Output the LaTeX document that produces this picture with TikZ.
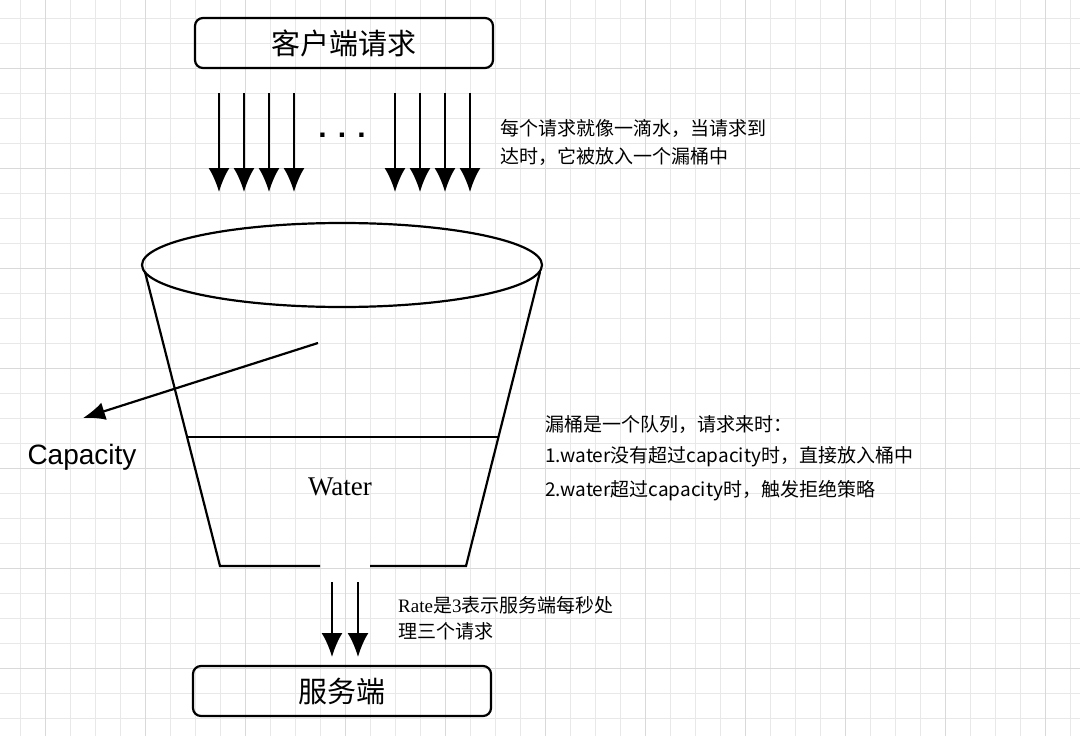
\documentclass[tikz,border=0pt]{standalone}
\usepackage{fontspec}
\usetikzlibrary{arrows.meta,shapes.geometric}
\setmainfont{Liberation Sans}
\newfontfamily\cjk{Noto Sans CJK SC}
\newfontfamily\serifx{Liberation Serif}
\begin{document}
\begin{tikzpicture}[x=1pt,y=-1pt,
  box/.style={draw,line width=2.2pt,rounded corners=8pt,minimum width=298pt,minimum height=50pt,font=\cjk\fontsize{29}{33}\selectfont},
  arr/.style={line width=2.2pt,-{Latex[length=24pt,width=21pt]}},
  ln/.style={line width=2.2pt},
  note/.style={anchor=west,inner sep=0,font=\cjk\fontsize{19}{22}\selectfont}]
\useasboundingbox (0,0) rectangle (1080,736);
\fill[white] (0,0) rectangle (1080,736);
\foreach \x in {20,45,...,1080} \draw[black!9,line width=0.8pt] (\x,0) -- (\x,736);
\foreach \y in {18,43,...,736} \draw[black!9,line width=0.8pt] (0,\y) -- (1080,\y);
\foreach \x in {45,145,...,1080} \draw[black!15,line width=1pt] (\x,0) -- (\x,736);
\foreach \y in {68,168,...,736} \draw[black!15,line width=1pt] (0,\y) -- (1080,\y);
\node[box] (client) at (344,43) {客户端请求};
\node[box] (server) at (342,691) {服务端};
\foreach \x [count=\i] in {219,244,269,294,395,420,445,470}{
  \coordinate (s\i) at (\x,93); \coordinate (e\i) at (\x,192);
  \draw[arr] (s\i) -- (e\i);}
\node[font=\bfseries\fontsize{30}{34}\selectfont] (dots) at (342,135) {. . .};
\node[note] (t1) at (500,128) {每个请求就像一滴水，当请求到};
\node[note] (t2) at (500,156) {达时，它被放入一个漏桶中};
\node[draw,ellipse,line width=2.2pt,minimum width=400pt,minimum height=84pt,inner sep=0] (top) at (342,265) {};
\coordinate (lt) at (145,272); \coordinate (lb) at (220,566);
\coordinate (rt) at (540,272); \coordinate (rb) at (466,566);
\draw[ln] (lt) -- (lb) -- (320,566);
\draw[ln] (rt) -- (rb) -- (370,566);
\coordinate (wl) at (187,437); \coordinate (wr) at (498,437);
\draw[ln] (wl) -- (wr);
\node[font=\serifx\fontsize{27}{31}\selectfont] (water) at (340,487) {Water};
\coordinate (cs) at (318,343); \coordinate (ce) at (83,418);
\draw[line width=2.2pt,-{Latex[length=22pt,width=18pt]}] (cs) -- (ce);
\node[font=\fontsize{28}{32}\selectfont] (cap) at (82,457) {Capacity};
\node[note] (n1) at (545,425) {漏桶是一个队列，请求来时：};
\node[note] (n2) at (545,457) {1.water没有超过capacity时，直接放入桶中};
\node[note] (n3) at (545,491) {2.water超过capacity时，触发拒绝策略};
\foreach \x [count=\i] in {332,358}{
  \coordinate (a\i) at (\x,582); \coordinate (b\i) at (\x,657);
  \draw[arr] (a\i) -- (b\i);}
\node[note] (r1) at (398,605) {{\serifx Rate}是{\serifx 3}表示服务端每秒处};
\node[note] (r2) at (398,631) {理三个请求};
\end{tikzpicture}
\end{document}
